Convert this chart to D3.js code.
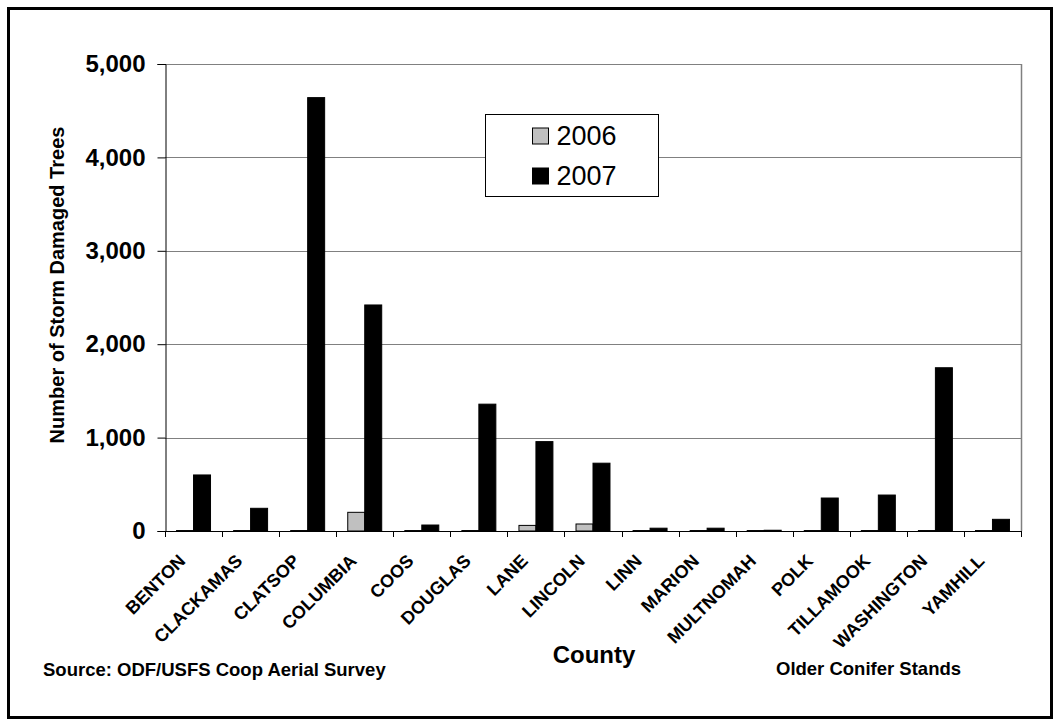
<!DOCTYPE html>
<html>
<head>
<meta charset="utf-8">
<script src="https://cdn.jsdelivr.net/npm/d3@7"></script>
<style>
  body { margin: 0; background: #fff; }
  svg { font-family: "Liberation Sans", Arial, sans-serif; }
</style>
</head>
<body>
<div class="chart-container"></div>
<script>
// chart data
const counties = ["BENTON", "CLACKAMAS", "CLATSOP", "COLUMBIA", "COOS", "DOUGLAS", "LANE",
    "LINCOLN", "LINN", "MARION", "MULTNOMAH", "POLK", "TILLAMOOK", "WASHINGTON", "YAMHILL"];
const seriesNames = ["2006", "2007"];
const values2006 = [5, 5, 5, 200, 5, 5, 60, 75, 5, 5, 5, 5, 5, 5, 5];
const values2007 = [600, 243, 4640, 2420, 64, 1358, 957, 726, 30, 30, 8, 353, 385, 1748, 125];
const yTicks = [0, 1000, 2000, 3000, 4000, 5000];

function draw(){
    const width = 1061;
    const height = 727;
    const marginTop = 64;
    const marginRight = 40;
    const marginBottom = 196;
    const marginLeft = 165;

    const colors = {"2006": "#c0c0c0", "2007": "#000000"};
    const rows = counties.map((c, i) => ({county: c, "2006": values2006[i], "2007": values2007[i]}));

    const x = d3.scaleBand()
        .domain(counties)
        .range([marginLeft, width - marginRight]);

    const x1 = d3.scaleBand()
        .domain(seriesNames)
        .range([0, x.bandwidth()])
        .paddingOuter(0.68);

    const y = d3.scaleLinear()
        .domain([0, 5000])
        .range([height - marginBottom, marginTop]);

    const svg = d3.select('.chart-container').append("svg")
        .attr("width", width)
        .attr("height", height);

    // outer frame
    svg.append("rect")
        .attr("x", 8.5).attr("y", 8.5)
        .attr("width", width - 18).attr("height", height - 18)
        .attr("fill", "none")
        .attr("stroke", "#000")
        .attr("stroke-width", 3);

    // gridlines
    svg.append("g")
        .selectAll("line")
        .data(yTicks.slice(1))
        .join("line")
        .attr("x1", marginLeft).attr("x2", width - marginRight)
        .attr("y1", d => Math.round(y(d)) + 0.5).attr("y2", d => Math.round(y(d)) + 0.5)
        .attr("stroke", "#808080");

    // right border of plot area
    svg.append("line")
        .attr("x1", width - marginRight + 0.5).attr("x2", width - marginRight + 0.5)
        .attr("y1", y(5000)).attr("y2", y(0))
        .attr("stroke", "#808080").attr("stroke-width", 1.5);

    // bars
    const groups = svg.append("g")
        .selectAll("g")
        .data(rows)
        .join("g")
        .attr("transform", d => `translate(${x(d.county)},0)`);

    groups.selectAll("rect")
        .data(d => seriesNames.map(s => ({key: s, value: d[s]})))
        .join("rect")
        .attr("x", d => x1(d.key))
        .attr("y", d => y(d.value))
        .attr("width", x1.bandwidth())
        .attr("height", d => y(0) - y(d.value))
        .attr("fill", d => colors[d.key])
        .attr("stroke", "#000")
        .attr("stroke-width", 1);

    // y axis
    const yAxis = svg.append("g")
        .attr("transform", `translate(${marginLeft + 0.5},0)`)
        .call(d3.axisLeft(y).tickValues(yTicks).tickSize(8).tickPadding(12).tickFormat(d3.format(",")));
    yAxis.selectAll("text")
        .attr("font-size", 24)
        .attr("font-weight", "bold")
        .attr("fill", "#000")
        .attr("font-family", "Liberation Sans, Arial, sans-serif");
    yAxis.select(".domain").attr("stroke", "#000");

    // x axis baseline and ticks between categories
    svg.append("line")
        .attr("x1", marginLeft).attr("x2", width - marginRight)
        .attr("y1", Math.round(y(0)) + 0.5).attr("y2", Math.round(y(0)) + 0.5)
        .attr("stroke", "#000");
    svg.append("g")
        .selectAll("line")
        .data(counties.concat(["end"]))
        .join("line")
        .attr("x1", (d, i) => Math.round(marginLeft + i * x.step()) + 0.5)
        .attr("x2", (d, i) => Math.round(marginLeft + i * x.step()) + 0.5)
        .attr("y1", y(0)).attr("y2", y(0) + 6)
        .attr("stroke", "#000");

    // x labels
    svg.append("g")
        .selectAll("text")
        .data(counties)
        .join("text")
        .attr("transform", d => `translate(${x(d) + x.bandwidth() / 2 - 7},${y(0) + 31}) rotate(-45)`)
        .attr("text-anchor", "end")
        .attr("font-size", 18)
        .attr("font-weight", "bold")
        .text(d => d);

    // axis titles
    svg.append("text")
        .attr("transform", `translate(64,285) rotate(-90)`)
        .attr("text-anchor", "middle")
        .attr("font-size", 20)
        .attr("font-weight", "bold")
        .text("Number of Storm Damaged Trees");

    svg.append("text")
        .attr("x", 594).attr("y", 663)
        .attr("text-anchor", "middle")
        .attr("font-size", 24)
        .attr("font-weight", "bold")
        .text("County");

    svg.append("text")
        .attr("x", 43).attr("y", 676)
        .attr("font-size", 18.5)
        .attr("font-weight", "bold")
        .text("Source: ODF/USFS Coop Aerial Survey");

    svg.append("text")
        .attr("x", 776).attr("y", 675)
        .attr("font-size", 18.5)
        .attr("font-weight", "bold")
        .text("Older Conifer Stands");

    // legend
    const legend = svg.append("g").attr("transform", "translate(485.5,114.5)");
    legend.append("rect")
        .attr("width", 173).attr("height", 82)
        .attr("fill", "#fff")
        .attr("stroke", "#000");
    const item = legend.selectAll("g")
        .data(seriesNames)
        .join("g")
        .attr("transform", (d, i) => `translate(47,${13.5 + i * 40})`);
    item.append("rect")
        .attr("width", 16).attr("height", 16)
        .attr("fill", d => colors[d])
        .attr("stroke", "#000");
    item.append("text")
        .attr("x", 24).attr("y", 17)
        .attr("font-size", 27)
        .text(d => d);
}

draw();
</script>
</body>
</html>
